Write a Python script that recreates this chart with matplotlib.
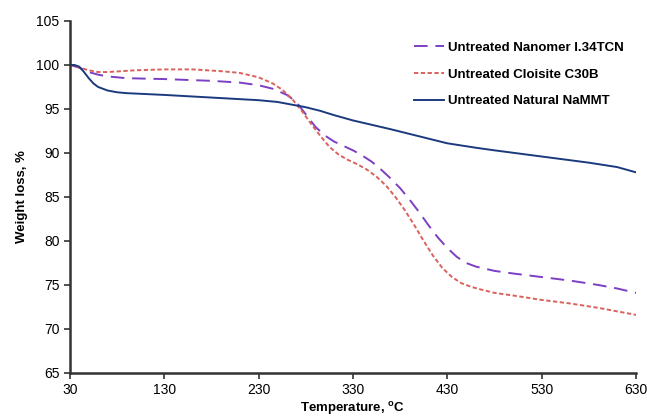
import matplotlib
matplotlib.use("Agg")
import matplotlib.pyplot as plt

plt.rcParams['font.family'] = ['Liberation Sans', 'DejaVu Sans']

# Temperatures (°C) and weight (%)
temp_nanomer = [30, 40, 50, 60, 70, 90, 130, 180, 210, 230, 245, 260, 270, 280, 290, 300, 310, 320, 330, 340,
                350, 360, 370, 380, 390, 400, 410, 420, 430, 440, 450, 460, 480, 500, 530, 560, 590, 610, 630]
wt_nanomer = [100, 99.7, 99.2, 98.9, 98.7, 98.5, 98.4, 98.2, 98.0, 97.7, 97.3, 96.6, 95.8, 94.4, 93.0, 92.0, 91.3,
              90.8, 90.3, 89.7, 89.0, 88.1, 87.1, 86.0, 84.7, 83.3, 81.8, 80.4, 79.2, 78.2, 77.5, 77.1, 76.6,
              76.3, 75.9, 75.5, 75.0, 74.6, 74.1]

temp_c30b = [30, 40, 50, 60, 70, 100, 130, 160, 190, 210, 230, 245, 255, 265, 275, 285, 295, 305, 315, 325, 335,
             345, 355, 365, 375, 385, 395, 405, 415, 425, 435, 445, 455, 465, 480, 500, 530, 560, 590, 630]
wt_c30b = [100, 99.7, 99.4, 99.2, 99.2, 99.4, 99.5, 99.5, 99.3, 99.1, 98.6, 97.9, 97.2, 96.2, 94.9, 93.4, 92.0,
           90.7, 89.8, 89.2, 88.7, 88.1, 87.3, 86.3, 85.0, 83.5, 81.8, 80.0, 78.3, 76.9, 75.9, 75.2, 74.8, 74.5,
           74.1, 73.8, 73.3, 72.9, 72.4, 71.6]

temp_nammt = [30, 35, 40, 45, 50, 55, 60, 70, 80, 90, 130, 180, 230, 250, 265, 280, 295, 310, 330, 350, 370,
              400, 430, 460, 480, 530, 580, 610, 630]
wt_nammt = [100, 100, 99.8, 99.2, 98.5, 97.9, 97.5, 97.1, 96.9, 96.8, 96.6, 96.3, 96.0, 95.8, 95.5, 95.2, 94.8,
            94.3, 93.7, 93.2, 92.7, 91.9, 91.1, 90.6, 90.3, 89.6, 88.9, 88.4, 87.8]

x_ticks = [30, 130, 230, 330, 430, 530, 630]
y_ticks = [65, 70, 75, 80, 85, 90, 95, 100, 105]

fig, ax = plt.subplots(figsize=(6.47, 4.2), dpi=100)
fig.subplots_adjust(left=0.108, right=0.983, top=0.95, bottom=0.112)

ax.plot(temp_nanomer, wt_nanomer, color='#7B3FC4', linestyle=(0, (7, 4)), linewidth=1.4,
        label='Untreated Nanomer I.34TCN')
ax.plot(temp_c30b, wt_c30b, color='#D9625C', linestyle=(0, (2.2, 1.3)), linewidth=1.4,
        label='Untreated Cloisite C30B')
ax.plot(temp_nammt, wt_nammt, color='#1B3A7E', linestyle='-', linewidth=1.4,
        label='Untreated Natural NaMMT')

ax.set_xlim(30, 630)
ax.set_ylim(65, 105)
ax.set_xticks(x_ticks)
ax.set_yticks(y_ticks)
ax.tick_params(direction='out', length=4, width=1.2, labelsize=10, colors='#333333', labelcolor='black')

for side in ['top', 'right']:
    ax.spines[side].set_visible(False)
for side in ['left', 'bottom']:
    ax.spines[side].set_linewidth(1.8)
    ax.spines[side].set_color('#333333')

ax.set_xlabel('Temperature, $^{\\mathregular{o}}$C', fontsize=9.5, fontweight='bold', labelpad=2)
ax.set_ylabel('Weight loss, %', fontsize=9.5, fontweight='bold', labelpad=6)

leg = ax.legend(loc='upper right', bbox_to_anchor=(1.0, 0.975), frameon=False, fontsize=9.5,
                handlelength=2.3, handletextpad=0.3, labelspacing=1.1)
for t in leg.get_texts():
    t.set_fontweight('bold')

fig.savefig('out.png', dpi=100)
